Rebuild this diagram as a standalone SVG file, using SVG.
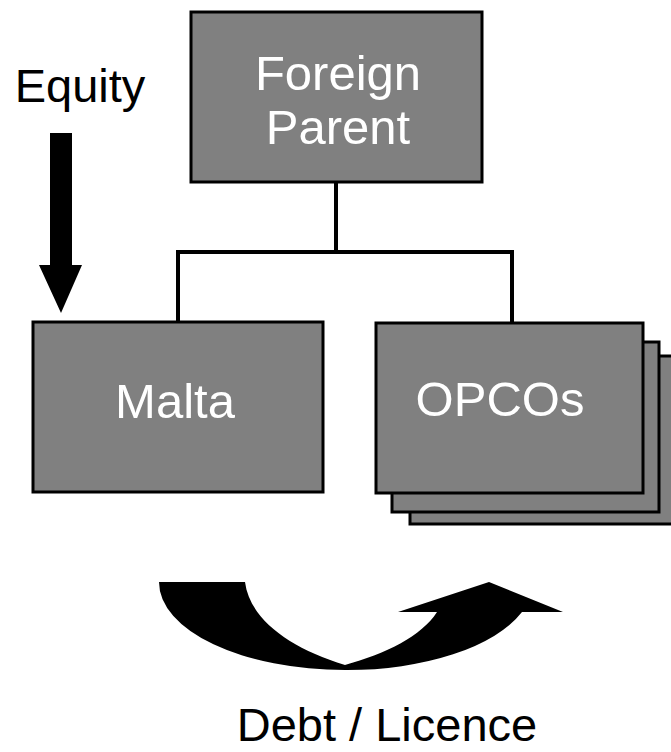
<svg xmlns="http://www.w3.org/2000/svg" width="671" height="752" viewBox="0 0 671 752">
<style>
.box{fill:#808080;stroke:#000;stroke-width:3}
.bt{font-family:"Liberation Sans",Arial,sans-serif;font-size:49px;fill:#fff;text-anchor:middle}
.lb{font-family:"Liberation Sans",Arial,sans-serif;font-size:47px;fill:#000;text-anchor:middle}
.con{stroke:#000;stroke-width:4;fill:none}
</style>
<rect width="671" height="752" fill="#fff"/>
<g id="connectors">
<path class="con" d="M336 182 V252 M178 252 H512 M178 250 V322 M512 250 V322"/>
</g>
<g id="parent">
<rect class="box" x="191" y="12" width="291" height="170"/>
<text class="bt" x="338" y="90">Foreign</text>
<text class="bt" x="338" y="144">Parent</text>
</g>
<g id="malta">
<rect class="box" x="33" y="322" width="290" height="170"/>
<text class="bt" x="175" y="418">Malta</text>
</g>
<g id="opcos">
<rect class="box" x="410" y="356" width="275" height="168"/>
<rect class="box" x="392" y="342" width="267" height="170"/>
<rect class="box" x="376" y="323" width="267" height="170"/>
<text class="bt" x="500" y="416">OPCOs</text>
</g>
<g id="equity">
<text class="lb" x="80" y="102">Equity</text>
<polygon points="50,133 72,133 72,265 82,265 61,313 39,265 50,265" fill="#000"/>
</g>
<g id="debt">
<path d="M159 582 L245 582 C250 620 290 648 345 665 C385 654 422 636 437 612 L398 612 L489 582 L563 612 L522 612 A186 88 0 0 1 345 670 A186 88 0 0 1 159 582 Z" fill="#000"/>
<text class="lb" x="387" y="741">Debt / Licence</text>
</g>
</svg>
